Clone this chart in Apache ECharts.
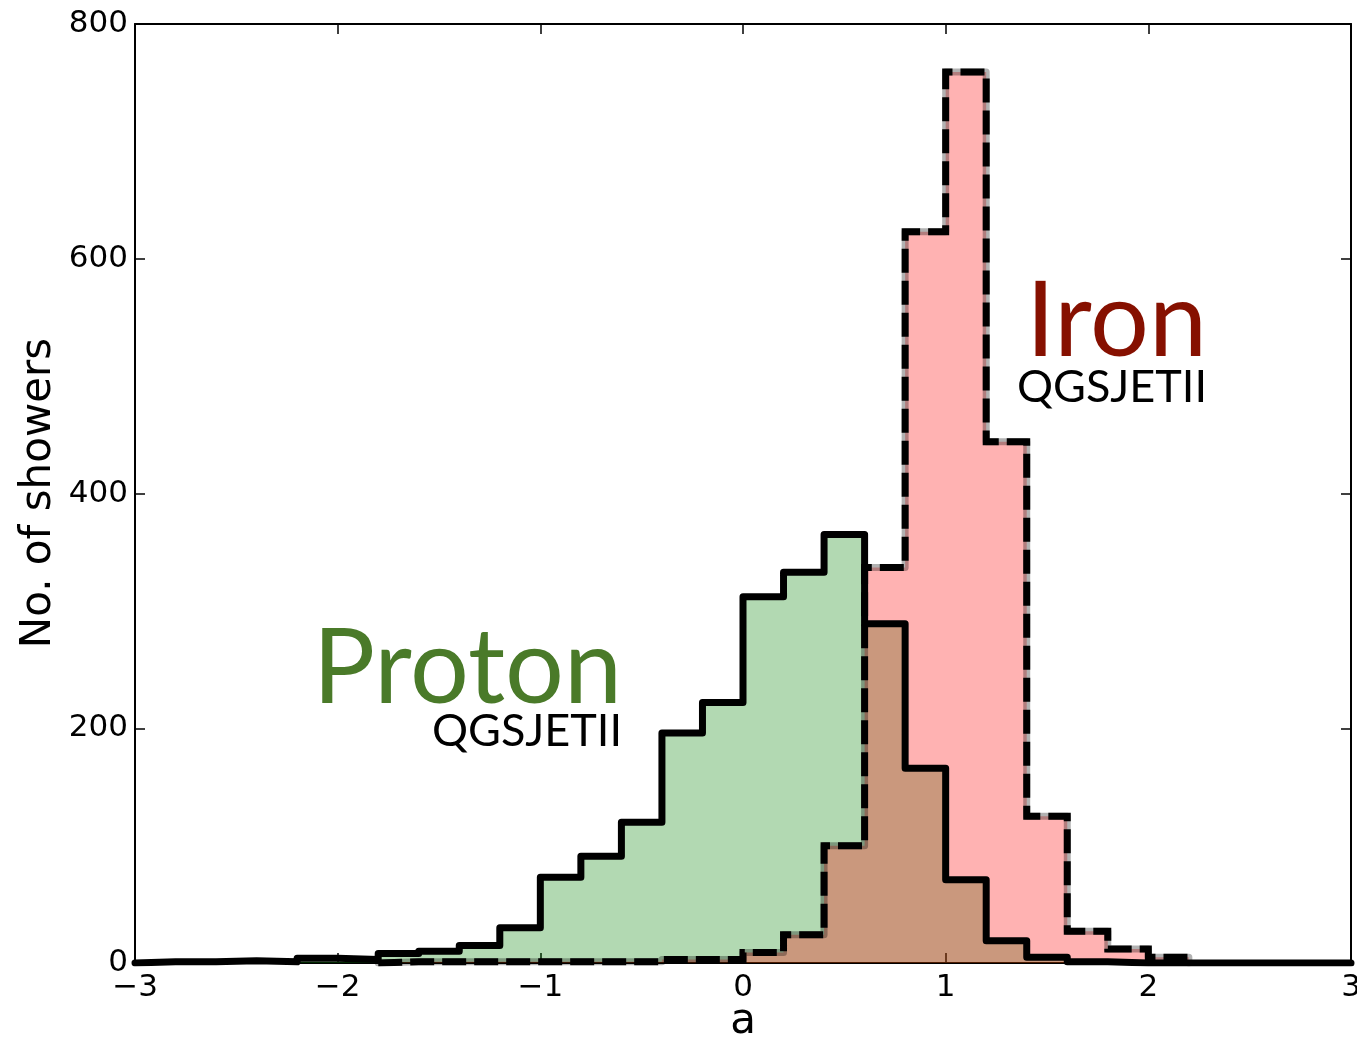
<!DOCTYPE html>
<html>
<head>
<meta charset="utf-8">
<script src="https://cdn.jsdelivr.net/npm/echarts@6/dist/echarts.min.js"></script>
<style>html,body{margin:0;padding:0;background:#fff;overflow:hidden}#c{width:1357px;height:1041px}</style>
</head>
<body>
<div id="c"></div>
<script>
// ---- data ----
const binWidth = 0.2;
const protonStart = -3.0;
const protonCounts = [1, 1, 2, 1, 4, 3, 8, 10, 15, 30, 73, 91, 120, 196, 222, 312, 333, 365, 289, 166, 71, 19, 5, 1, 0, 0, 0, 0, 0, 0];
const ironStart = -1.8;
const ironCounts = [1, 1, 1, 1, 1, 1, 1, 3, 3, 9, 24, 100, 337, 623, 759, 444, 125, 27, 12, 5];
const xTicks = [-3, -2, -1, 0, 1, 2, 3];
const yTicks = [0, 200, 400, 600, 800];

function stepPoints(start, counts) {
  const pts = [[start, 0]];
  counts.forEach((v, i) => pts.push([+(start + i * binWidth).toFixed(3), v]));
  pts.push([+(start + counts.length * binWidth).toFixed(3), 0]);
  return pts;
}
const protonPts = stepPoints(protonStart, protonCounts);
const ironPts = stepPoints(ironStart, ironCounts);

const chart = echarts.init(document.getElementById('c'), null, {renderer: 'canvas', width: 1357, height: 1041});
const tickFont = {fontFamily: 'DejaVu Sans', fontSize: 31, color: '#000'};
const minus = v => String(v).replace('-', '\u2212');

const baseX = {
  type: 'value', min: xTicks[0], max: xTicks[xTicks.length - 1], interval: 1,
  splitLine: {show: false},
  axisLine: {show: true, onZero: false, lineStyle: {color: '#000', width: 2}},
  axisTick: {show: true, inside: true, length: 10, lineStyle: {color: '#000', width: 1.5}}
};
const baseY = {
  type: 'value', min: yTicks[0], max: yTicks[yTicks.length - 1], interval: 200,
  splitLine: {show: false},
  axisLine: {show: true, onZero: false, lineStyle: {color: '#000', width: 2}},
  axisTick: {show: true, inside: true, length: 10, lineStyle: {color: '#000', width: 1.5}}
};

const common = {type: 'line', step: 'end', symbol: 'none', animation: false, silent: true};

chart.setOption({
  animation: false,
  grid: {left: 135, right: 6, top: 24, bottom: 78, containLabel: false, outerBoundsMode: 'none'},
  xAxis: [
    Object.assign({}, baseX, {position: 'bottom', axisLabel: Object.assign({margin: 9, formatter: minus, hideOverlap: false}, tickFont)}),
    Object.assign({}, baseX, {position: 'top', axisLabel: {show: false}})
  ],
  yAxis: [
    Object.assign({}, baseY, {position: 'left', axisLabel: Object.assign({margin: 7, formatter: minus}, tickFont)}),
    Object.assign({}, baseY, {position: 'right', axisLabel: {show: false}})
  ],
  series: [
    Object.assign({}, common, {name: 'protonFill', data: protonPts, z: 2,
      lineStyle: {opacity: 0, width: 0}, areaStyle: {color: 'rgba(0,128,0,0.3)', opacity: 1}}),
    Object.assign({}, common, {name: 'ironFill', data: ironPts, z: 2,
      lineStyle: {opacity: 0, width: 0}, areaStyle: {color: 'rgba(255,0,0,0.3)', opacity: 1}}),
    Object.assign({}, common, {name: 'ironEdge', data: ironPts, z: 3,
      lineStyle: {color: 'rgba(0,0,0,0.3)', width: 7, join: 'round', cap: 'round'}}),
    Object.assign({}, common, {name: 'ironDash', data: ironPts, z: 4,
      lineStyle: {color: '#000', width: 7, type: [24, 8], join: 'miter', cap: 'butt'}}),
    Object.assign({}, common, {name: 'protonLine', data: protonPts, z: 5,
      lineStyle: {color: '#000', width: 7, join: 'round', cap: 'round'}})
  ],
  graphic: [
    {type: 'text', x: 622, y: 669, z: 10, style: {text: 'Proton', fill: '#4a7a29', font: '104px Lato', align: 'right', verticalAlign: 'middle'}},
    {type: 'text', x: 622, y: 731, z: 10, style: {text: 'QGSJETII', fill: '#000', font: '45px Lato', align: 'right', verticalAlign: 'middle'}},
    {type: 'text', x: 1207, y: 322, z: 10, style: {text: 'Iron', fill: '#861000', font: '104px Lato', align: 'right', verticalAlign: 'middle'}},
    {type: 'text', x: 1207, y: 387, z: 10, style: {text: 'QGSJETII', fill: '#000', font: '45px Lato', align: 'right', verticalAlign: 'middle'}},
    {type: 'text', x: 39, y: 493, rotation: Math.PI / 2, z: 10, style: {text: 'No. of showers', fill: '#000', font: '42px "DejaVu Sans"', align: 'center', verticalAlign: 'middle'}},
    {type: 'text', x: 743, y: 1022, z: 10, style: {text: 'a', fill: '#000', font: '42px "DejaVu Sans"', align: 'center', verticalAlign: 'middle'}}
  ]
});
</script>
</body>
</html>
